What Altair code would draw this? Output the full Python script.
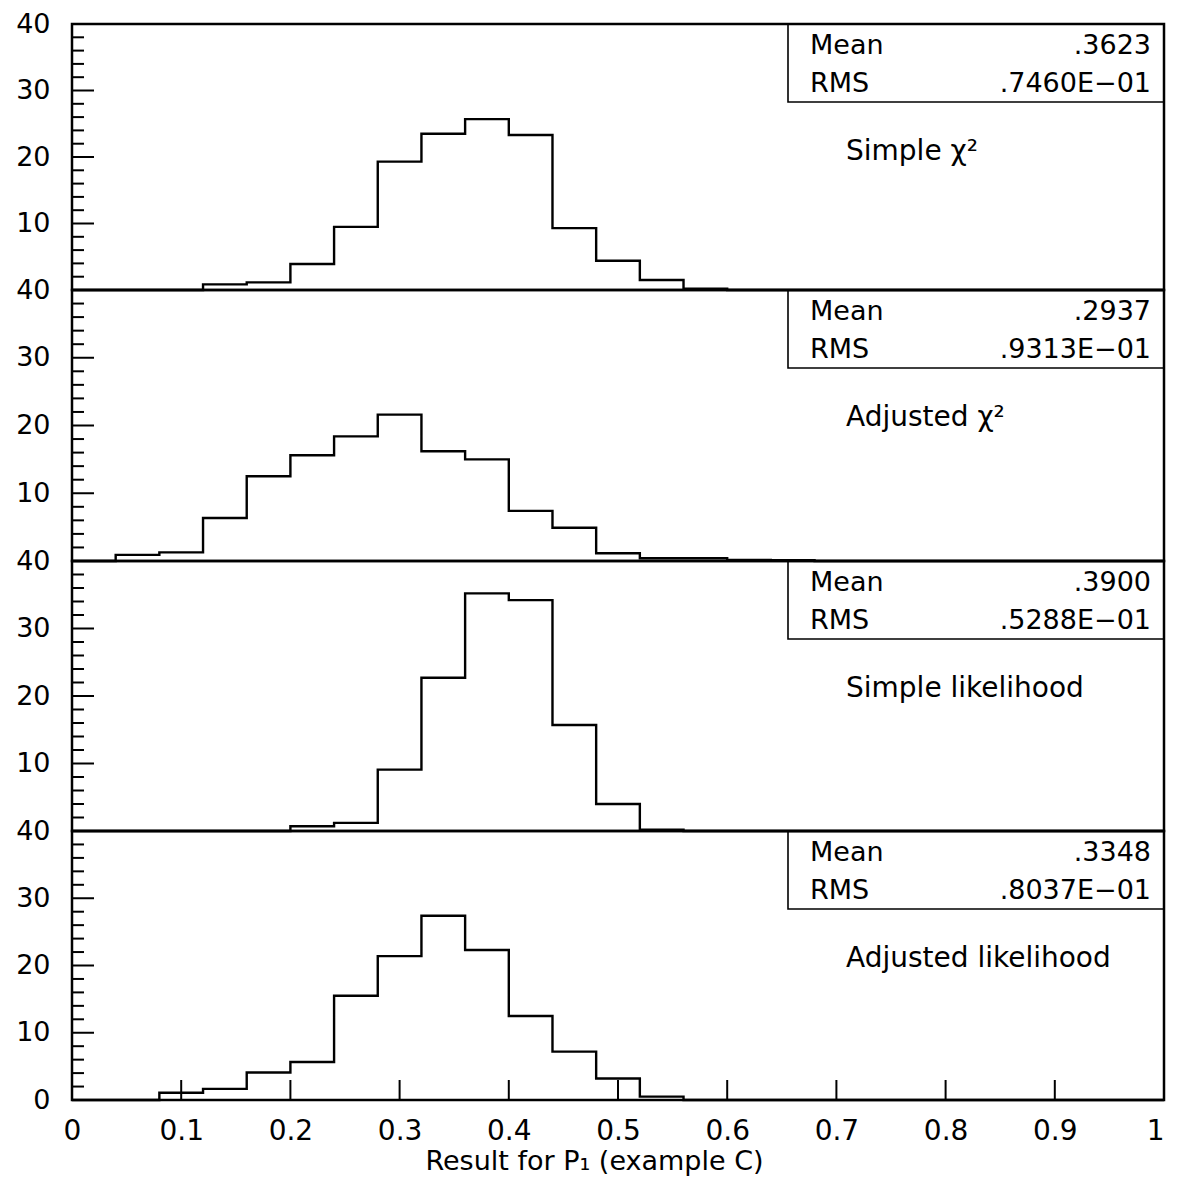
import altair as alt
import pandas as pd

# Histogram bin lower edges (width 0.04) plus the closing edge at 1.0
bin_edges = [0.00, 0.04, 0.08, 0.12, 0.16, 0.20, 0.24, 0.28, 0.32, 0.36, 0.40,
             0.44, 0.48, 0.52, 0.56, 0.60, 0.64, 0.68, 0.72, 0.76, 0.80, 0.84,
             0.88, 0.92, 0.96, 1.00]

simple_chi2 = [0, 0, 0, 0.85, 1.15, 3.9, 9.5, 19.3, 23.5, 25.7, 23.3, 9.3, 4.4,
               1.5, 0.2, 0, 0, 0, 0, 0, 0, 0, 0, 0, 0]
adjusted_chi2 = [0, 0.9, 1.27, 6.35, 12.5, 15.6, 18.4, 21.6, 16.2, 15.0, 7.4, 4.9,
                 1.15, 0.4, 0.4, 0.15, 0.1, 0, 0, 0, 0, 0, 0, 0, 0]
simple_lik = [0, 0, 0, 0, 0, 0.7, 1.2, 9.1, 22.7, 35.2, 34.2, 15.7, 4.0, 0.2,
              0, 0, 0, 0, 0, 0, 0, 0, 0, 0, 0]
adjusted_lik = [0, 0, 1.07, 1.66, 4.1, 5.65, 15.5, 21.4, 27.4, 22.3, 12.5, 7.2,
                3.2, 0.5, 0, 0, 0, 0, 0, 0, 0, 0, 0, 0, 0]

panel_labels = ["Simple \u03c7\u00b2", "Adjusted \u03c7\u00b2",
                "Simple likelihood", "Adjusted likelihood"]
mean_texts = [".3623", ".2937", ".3900", ".3348"]
rms_texts = [".7460E\u221201", ".9313E\u221201", ".5288E\u221201", ".8037E\u221201"]

y_labels_upper = [10, 20, 30, 40]
y_labels_bottom = [0, 10, 20, 30, 40]
y_major_ticks = [10, 20, 30]
y_minor_ticks = [2, 4, 6, 8, 12, 14, 16, 18, 22, 24, 26, 28, 32, 34, 36, 38]
x_tick_values = [0.1, 0.2, 0.3, 0.4, 0.5, 0.6, 0.7, 0.8, 0.9]
x_label_values = [0, 0.1, 0.2, 0.3, 0.4, 0.5, 0.6, 0.7, 0.8, 0.9, 1]
x_title = "Result for P\u2081 (example C)"

series = [simple_chi2, adjusted_chi2, simple_lik, adjusted_lik]
heights = [266, 271, 270, 269]

W = 1092
FONT = "DejaVu Sans"
TICK_FS = 27


def panel(i):
    vals = series[i]
    h = heights[i]
    bottom = i == 3
    df = pd.DataFrame({"x": bin_edges, "y": vals + [vals[-1]]})
    xscale = alt.Scale(domain=[0, 1], nice=False, zero=False)
    yscale = alt.Scale(domain=[0, 40], nice=False, zero=False)
    if bottom:
        xaxis = alt.Axis(values=x_label_values, format=".1~f", ticks=False,
                         domain=False, grid=False, labelPadding=17,
                         labelFlush=False, labelOverlap=False,
                         labelAlign={"condition": {"test": "datum.value >= 1",
                                                   "value": "right"},
                                     "value": "center"},
                         labelFontSize=28, labelFont=FONT, labelColor="black",
                         title=x_title, titleFont=FONT, titleFontSize=27,
                         titleFontWeight="normal", titleColor="black",
                         titleX=522, titleY=69, titleAlign="center",
                         titleBaseline="alphabetic")
    else:
        xaxis = None
    yaxis = alt.Axis(values=y_labels_bottom if bottom else y_labels_upper,
                     ticks=False, domain=False, grid=False, title=None,
                     labelPadding=22, labelOverlap=False, labelFlush=False,
                     labelFontSize=TICK_FS, labelFont=FONT, labelColor="black",
                     labelBaseline="middle")

    hist = alt.Chart(df).mark_line(
        interpolate="step-after", color="black", strokeWidth=2.4
    ).encode(
        x=alt.X("x:Q", scale=xscale, axis=xaxis),
        y=alt.Y("y:Q", scale=yscale, axis=yaxis),
    )

    major = alt.Chart(pd.DataFrame({"t": y_major_ticks})).mark_rule(
        color="black", strokeWidth=2
    ).encode(y=alt.Y("t:Q", scale=yscale, axis=None),
             x=alt.value(0), x2=alt.value(22))
    minor = alt.Chart(pd.DataFrame({"t": y_minor_ticks})).mark_rule(
        color="black", strokeWidth=2
    ).encode(y=alt.Y("t:Q", scale=yscale, axis=None),
             x=alt.value(0), x2=alt.value(12))

    info = pd.DataFrame({"label": [panel_labels[i]], "mean": [mean_texts[i]],
                         "rms": [rms_texts[i]]})
    box = alt.Chart(info).mark_rect(
        fillOpacity=0, stroke="black", strokeWidth=1.6
    ).encode(x=alt.value(716), x2=alt.value(W), y=alt.value(0), y2=alt.value(78))
    mean_lbl = alt.Chart(info).mark_text(
        align="left", baseline="middle", font=FONT, fontSize=27, color="black"
    ).encode(x=alt.value(738), y=alt.value(22), text=alt.value("Mean"))
    mean_val = alt.Chart(info).mark_text(
        align="right", baseline="middle", font=FONT, fontSize=27, color="black"
    ).encode(x=alt.value(1079), y=alt.value(22), text="mean:N")
    rms_lbl = alt.Chart(info).mark_text(
        align="left", baseline="middle", font=FONT, fontSize=27, color="black"
    ).encode(x=alt.value(738), y=alt.value(60), text=alt.value("RMS"))
    rms_val = alt.Chart(info).mark_text(
        align="right", baseline="middle", font=FONT, fontSize=27, color="black"
    ).encode(x=alt.value(1079), y=alt.value(60), text="rms:N")
    title_txt = alt.Chart(info).mark_text(
        align="left", baseline="middle", font=FONT, fontSize=28, color="black"
    ).encode(x=alt.value(774), y=alt.value(128), text="label:N")

    layers = [hist, major, minor, box, mean_lbl, mean_val, rms_lbl, rms_val, title_txt]
    if bottom:
        xt = alt.Chart(pd.DataFrame({"t": x_tick_values})).mark_rule(
            color="black", strokeWidth=2
        ).encode(x=alt.X("t:Q", scale=xscale, axis=None),
                 y=alt.value(h), y2=alt.value(h - 20))
        layers.append(xt)
    return alt.layer(*layers).resolve_axis(
        x="independent", y="independent"
    ).properties(width=W, height=h)


chart = alt.vconcat(
    *[panel(i) for i in range(4)], spacing=0, bounds="flush",
    padding={"left": 6, "top": 0, "right": 0, "bottom": 0},
).configure(
    font=FONT, background="white"
).configure_view(
    stroke="black", strokeWidth=2.5
)

chart.save("out.html", embed_options={"renderer": "svg", "actions": False})
